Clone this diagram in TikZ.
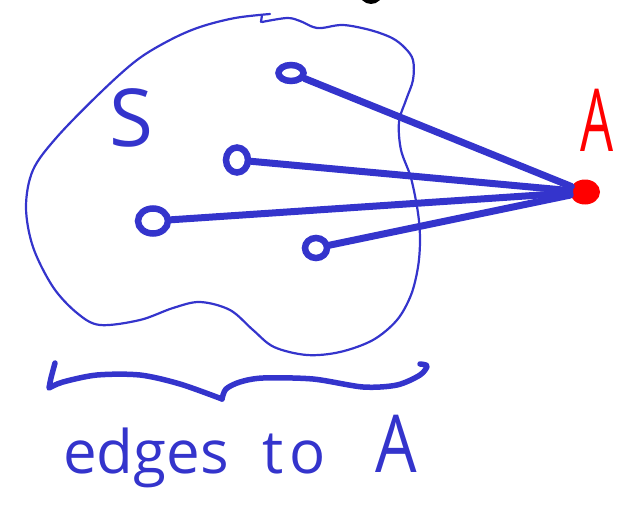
\documentclass[tikz,border=0pt]{standalone}
\usepackage{fontspec}
\setmainfont{Open Sans}
\usetikzlibrary{shapes.geometric}
\definecolor{pen}{RGB}{52,52,204}
\definecolor{redpen}{RGB}{255,0,0}
\tikzset{
  outline/.style={draw=pen, line width=2.2pt, line cap=round, line join=round},
  edgeline/.style={draw=pen, line width=7pt, line cap=round},
  vert/.style={ellipse, draw=pen, line width=6.5pt, inner sep=0pt},
  bracestroke/.style={draw=pen, line width=5.5pt, line cap=round, line join=round},
  hand/.style={text=pen, inner sep=0pt, anchor=base},
}
\begin{document}
\begin{tikzpicture}[x=1pt, y=-1pt]
\useasboundingbox (0,0) rectangle (623,513);
\clip (0,0) rectangle (623,513);
% black blob at top edge
\fill[black] (371,-8) circle (12);
% set S outline
\draw[outline] plot[smooth, tension=0.55] coordinates {
 (262,22) (287,18) (300,21) (313,27) (322,28) (343,25) (370,30) (392,38) (405,48)
 (413,60) (413,80) (406,100) (399,122) (401,150) (411,178) (418,213) (420,240)
 (418,267) (411,295) (397,320) (373,340) (340,352) (307,355) (274,347) (253,330)
 (230,310) (200,302) (173,308) (140,320) (100,325) (77,313) (53,287) (33,247)
 (26,207) (33,170) (57,137) (100,93) (137,60) (170,40) (200,27) (235,18) (270,14)};
\draw[outline] (262,15) -- (261,22);
% label S
\node[hand, font=\fontsize{80}{80}\selectfont] (S) at (131,147) {S};
% vertices
\node[vert, minimum width=25pt, minimum height=16pt] (n1) at (291,73) {};
\node[vert, minimum width=22pt, minimum height=25pt] (n2) at (237,160) {};
\node[vert, minimum width=30pt, minimum height=25pt] (n3) at (153,221) {};
\node[vert, minimum width=22pt, minimum height=20pt] (n4) at (316,248) {};
% vertex A
\node[ellipse, fill=redpen, minimum width=30pt, minimum height=25pt, inner sep=0pt] (A) at (585,192) {};
\node[inner sep=0pt, anchor=base, text=redpen, font=\fontsize{87}{87}\selectfont] (Alabel) at (597,152) {\scalebox{0.6}[1]{A}};
% edges
\draw[edgeline] (n1) -- (A);
\draw[edgeline] (n2) -- (A);
\draw[edgeline] (n3) -- (A);
\draw[edgeline] (n4) -- (A);
% brace
\draw[bracestroke] plot[smooth] coordinates {(55,363) (51,378) (49,388)}
  -- plot[smooth] coordinates {(49,388) (63,382) (97,375) (140,375) (180,384) (222,399)};
\draw[bracestroke] plot[smooth] coordinates {(222,399) (226,389) (240,382) (263,378)
  (313,379) (363,387) (397,385) (420,375) (427,366) (420,364)};
% caption
\node[hand, anchor=base west, font=\fontsize{60}{60}\selectfont] (w1) at (63,473) {edges};
\node[hand, anchor=base west, font=\fontsize{60}{60}\selectfont] (w2) at (262,473) {t\hspace{6pt}o};
\node[hand, font=\fontsize{80}{80}\selectfont] (w3) at (396,472) {\scalebox{0.82}[1]{A}};
\end{tikzpicture}
\end{document}
